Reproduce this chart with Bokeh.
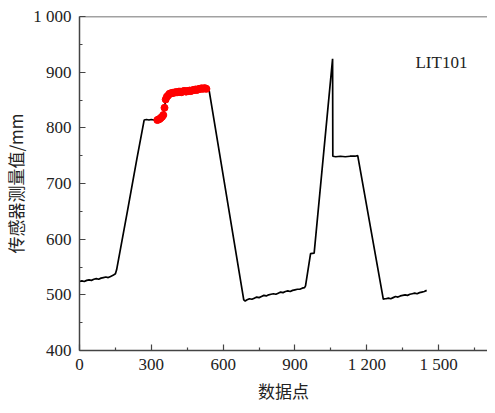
from bokeh.plotting import figure
from bokeh.models import FixedTicker, Range1d, Label, Span
from bokeh.embed import file_html
from bokeh.resources import INLINE

# ---- data ----
seg_a_x = [0, 10, 20, 30, 40, 50, 60, 70, 80, 90, 100, 110, 120, 130, 140, 150]
seg_a_y = [524, 525, 524, 526, 527, 526, 528, 529, 528, 530, 531, 532, 531, 533, 535, 538]

seg_b_x = [155, 200, 240, 270, 280, 290, 300, 310, 320]
seg_b_y = [545, 650, 745, 814, 815, 814, 815, 814, 815]

red_x = [325, 330, 335, 340, 345, 350, 355, 360, 365, 370, 375, 380, 385, 390,
         395, 400, 405, 410, 415, 420, 425, 430, 435, 440, 445, 450, 455, 460,
         465, 470, 475, 480, 485, 490, 495, 500, 505, 510, 515, 520, 525, 530]
red_y = [814, 815, 816, 818, 820, 823, 836, 851, 856, 858, 861, 862, 862, 863,
         863, 864, 864, 864, 865, 865, 864, 865, 866, 866, 865, 866, 866, 867,
         866, 867, 868, 868, 869, 868, 869, 870, 870, 871, 870, 871, 871, 870]

seg_d_x = [540, 686, 692, 700, 710, 720, 730, 740, 750, 760, 770, 780, 790, 800,
           810, 820, 830, 840, 850, 860, 870, 880, 890, 900, 910, 920, 930, 940]
seg_d_y = [871, 491, 489, 491, 493, 492, 494, 496, 495, 497, 499, 498, 500, 501,
           502, 501, 503, 505, 504, 506, 507, 506, 508, 509, 510, 510, 512, 513]

seg_e_x = [944, 965, 980, 1057, 1058, 1070, 1090, 1110, 1130, 1150, 1162, 1269]
seg_e_y = [516, 574, 575, 924, 749, 748, 749, 748, 749, 749, 750, 492]

seg_f_x = [1275, 1280, 1290, 1300, 1310, 1320, 1330, 1340, 1350, 1360, 1370,
           1380, 1390, 1400, 1410, 1420, 1430, 1440, 1450]
seg_f_y = [493, 493, 494, 493, 495, 497, 496, 498, 499, 500, 499,
           501, 502, 503, 502, 504, 505, 506, 508]

x_ticks = [0, 300, 600, 900, 1200, 1500]
x_tick_labels = ["0", "300", "600", "900", "1 200", "1 500"]
x_minor = [150, 450, 750, 1050, 1350, 1650]
y_ticks = [400, 500, 600, 700, 800, 900, 1000]
y_tick_labels = ["400", "500", "600", "700", "800", "900", "1 000"]
y_minor = [450, 550, 650, 750, 850, 950]

series_name = "LIT101"
x_title = "数据点"
y_title = "传感器测量值/mm"

all_x = seg_a_x + seg_b_x + red_x + seg_d_x + seg_e_x + seg_f_x
all_y = seg_a_y + seg_b_y + red_y + seg_d_y + seg_e_y + seg_f_y

NUM_FONT = "Liberation Serif"
CJK_FONT = "Noto Sans CJK SC"
AX_COL = "#444444"

p = figure(width=487, height=405, output_backend="svg", toolbar_location=None,
           x_range=Range1d(0, 1704), y_range=Range1d(400, 1000),
           min_border_left=78, min_border_right=0, min_border_top=16,
           min_border_bottom=50)
p.outline_line_color = None
p.background_fill_color = "white"
p.border_fill_color = "white"
p.xgrid.visible = False
p.ygrid.visible = False

p.line(all_x, all_y, line_color="black", line_width=1.7)
p.scatter(red_x, red_y, size=7, fill_color="red", line_color="red", marker="circle")

# axes
xa = p.xaxis[0]
xa.ticker = FixedTicker(ticks=x_ticks, minor_ticks=x_minor)
xa.major_label_overrides = {t: l for t, l in zip(x_ticks, x_tick_labels)}
ya = p.yaxis[0]
ya.ticker = FixedTicker(ticks=y_ticks, minor_ticks=y_minor)
ya.major_label_overrides = {t: l for t, l in zip(y_ticks, y_tick_labels)}

for ax in (xa, ya):
    ax.axis_line_color = AX_COL
    ax.axis_line_width = 1.5
    ax.major_tick_line_color = AX_COL
    ax.minor_tick_line_color = AX_COL
    ax.major_tick_line_width = 1.2
    ax.minor_tick_line_width = 1.2
    ax.major_tick_in = 6
    ax.major_tick_out = 0
    ax.minor_tick_in = 3
    ax.minor_tick_out = 0
    ax.major_label_text_font = NUM_FONT
    ax.major_label_text_font_size = "17px"
    ax.major_label_text_color = "#222222"
    ax.axis_label_text_font = CJK_FONT
    ax.axis_label_text_font_size = "17px"
    ax.axis_label_text_font_style = "normal"
    ax.axis_label_text_color = "#222222"

xa.axis_label = x_title
xa.major_label_standoff = 4
xa.axis_label_standoff = 1
ya.axis_label = y_title
ya.major_label_standoff = 8
ya.axis_label_standoff = 2

p.add_layout(Span(location=1000, dimension="width", line_color=AX_COL, line_width=1.5))

p.add_layout(Label(x=1620, y=918, text=series_name, text_font=NUM_FONT,
                   text_font_size="17px", text_color="#222222",
                   text_align="right", text_baseline="middle"))

open("out.html", "w").write(file_html(p, INLINE))
